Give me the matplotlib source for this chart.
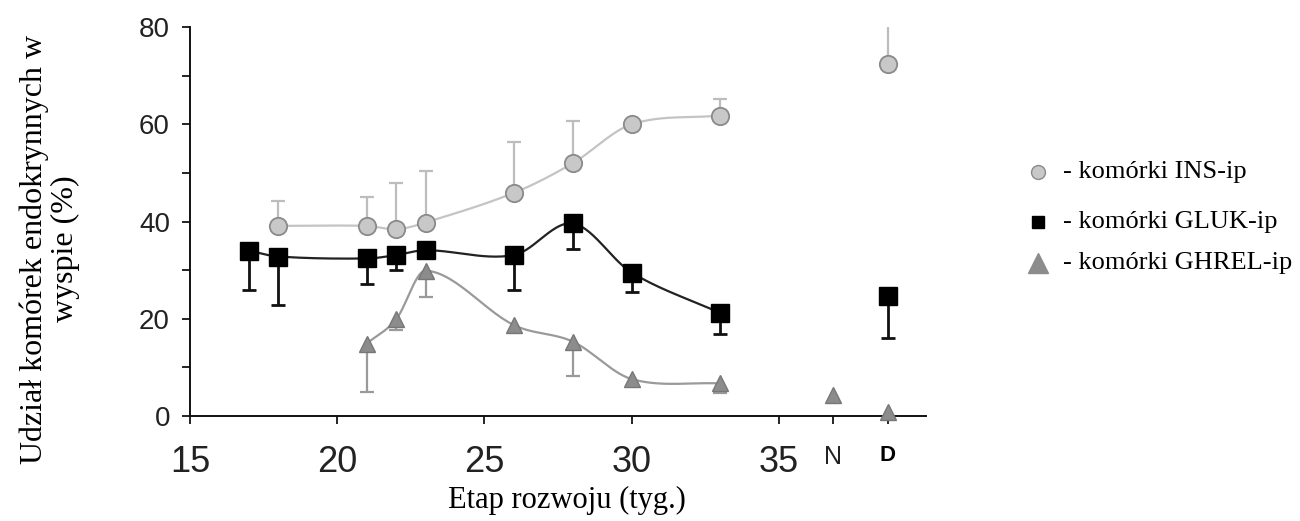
import numpy as np
import matplotlib
matplotlib.use('Agg')
import matplotlib.pyplot as plt
import matplotlib.lines as mlines

# data (weeks, % of endocrine cells in islet)
ins_x = [18, 21, 22, 23, 26, 28, 30, 33]
ins_y = [39.1, 39.1, 38.4, 39.8, 45.9, 52.0, 60.0, 61.8]
ins_err = [5.1, 5.9, 9.5, 10.5, 10.4, 8.6, 0.0, 3.4]

gluk_x = [17, 18, 21, 22, 23, 26, 28, 30, 33]
gluk_y = [34.0, 32.8, 32.4, 33.1, 34.1, 33.1, 39.6, 29.5, 21.2]
gluk_err = [8.0, 10.0, 5.3, 3.1, 0.0, 7.1, 5.3, 3.9, 4.4]

ghrel_x = [21, 22, 23, 26, 28, 30, 33]
ghrel_y = [14.9, 19.9, 29.9, 18.7, 15.3, 7.6, 6.7]
ghrel_err = [9.9, 2.2, 5.4, 0.0, 7.0, 0.0, 2.0]

# N and D groups (separate, unconnected points)
N_POS, D_POS = 36.85, 38.7
ins_d, ins_d_err = 72.5, 8.1
gluk_d, gluk_d_err = 24.7, 8.6
ghrel_n, ghrel_d = 4.3, 0.9

xtick_pos = [15, 20, 25, 30, 35, N_POS, D_POS]
xtick_labels = ['15', '20', '25', '30', '35', 'N', 'D']


def smooth(x, y, n=30):
    """cubic hermite curve through the points (only for drawing the line)"""
    x = np.asarray(x, float)
    y = np.asarray(y, float)
    m = np.zeros_like(y)
    m[1:-1] = (y[2:] - y[:-2]) / (x[2:] - x[:-2])
    m[0] = (y[1] - y[0]) / (x[1] - x[0])
    m[-1] = (y[-1] - y[-2]) / (x[-1] - x[-2])
    xs, ys = [], []
    for i in range(len(x) - 1):
        h = x[i + 1] - x[i]
        t = np.linspace(0, 1, n)
        h00 = 2 * t**3 - 3 * t**2 + 1
        h10 = t**3 - 2 * t**2 + t
        h01 = -2 * t**3 + 3 * t**2
        h11 = t**3 - t**2
        xs.append(x[i] + t * h)
        ys.append(h00 * y[i] + h10 * h * m[i] + h01 * y[i + 1] + h11 * h * m[i + 1])
    return np.concatenate(xs), np.concatenate(ys)


def one_sided_err(ax, x, y, err, sign, color, lw):
    """error bar going only up (sign=1) or down (sign=-1), cap at the end"""
    for xi, yi, ei in zip(x, y, err):
        if ei <= 0:
            continue
        end = yi + sign * ei
        ax.plot([xi, xi], [yi, end], color=color, lw=lw, zorder=1, solid_capstyle='butt')
        ax.plot([xi], [end], marker='_', ms=9.5, mew=lw, color=color, zorder=1)


fig = plt.figure(figsize=(13, 5.21), dpi=100)
ax = fig.add_axes([0.1462, 0.2015, 0.5662, 0.7466])

ins_c, ins_edge = '#c8c8c8', '#8a8a8a'
tri_c, tri_edge = '#8c8c8c', '#777777'

# lines
sx, sy = smooth(ins_x, ins_y)
ax.plot(sx, sy, color='#c4c4c4', lw=1.6, zorder=2)
sx, sy = smooth(gluk_x, gluk_y)
ax.plot(sx, sy, color='#222222', lw=1.6, zorder=2)
sx, sy = smooth(ghrel_x, ghrel_y)
ax.plot(sx, sy, color='#9a9a9a', lw=1.6, zorder=2)

# error bars
one_sided_err(ax, ins_x + [D_POS], ins_y + [ins_d], ins_err + [ins_d_err], 1, '#bdbdbd', 1.6)
one_sided_err(ax, gluk_x + [D_POS], gluk_y + [gluk_d], gluk_err + [gluk_d_err], -1, '#111111', 2.0)
one_sided_err(ax, ghrel_x, ghrel_y, ghrel_err, -1, '#9a9a9a', 1.6)

# markers
ax.plot(ins_x + [D_POS], ins_y + [ins_d], 'o', ms=12.5, mfc=ins_c, mec=ins_edge, mew=1.3,
        ls='none', zorder=4)
ax.plot(gluk_x + [D_POS], gluk_y + [gluk_d], 's', ms=12.5, mfc='black', mec='black',
        ls='none', zorder=4)
ax.plot(ghrel_x + [N_POS, D_POS], ghrel_y + [ghrel_n, ghrel_d], '^', ms=12, mfc=tri_c, mec=tri_edge,
        ls='none', zorder=4, clip_on=False)

# axes
ax.set_xlim(15, 40)
ax.set_ylim(0, 80)
for s in ['top', 'right']:
    ax.spines[s].set_visible(False)
for s in ['left', 'bottom']:
    ax.spines[s].set_linewidth(1.4)
    ax.spines[s].set_color('#111111')

ax.set_yticks([0, 20, 40, 60, 80])
ax.set_yticks([10, 30, 50, 70], minor=True)
ax.tick_params(axis='y', which='both', length=6, width=1.2, direction='out', pad=8.5,
               labelsize=20, labelcolor='#222222')
for lab in ax.get_yticklabels():
    lab.set_family('Liberation Sans')

ax.set_xticks(xtick_pos)
ax.set_xticklabels(xtick_labels)
ax.tick_params(axis='x', length=6, width=1.2, direction='out', pad=15,
               labelsize=26, labelcolor='#222222')
for i, lab in enumerate(ax.get_xticklabels()):
    lab.set_family('Liberation Sans')
    if xtick_labels[i] == 'N':
        lab.set_fontsize(18)
    elif xtick_labels[i] == 'D':
        lab.set_fontsize(16)
        lab.set_fontweight('bold')
        lab.set_color('black')
ax.xaxis.get_major_ticks()[2].tick1line.set_color('#bbbbbb')

# axis titles
fig.text(50 / 1300, 1 - 249 / 521, 'Udział komórek endokrynnych w\nwyspie (%)', rotation=90,
         ha='center', va='center', family='Liberation Serif', fontsize=23,
         multialignment='center', linespacing=1.1)
fig.text(567 / 1300, 1 - 500 / 521, 'Etap rozwoju (tyg.)', ha='center', va='center',
         family='Liberation Serif', fontsize=22)

# legend drawn by hand (uneven spacing in the original)
leg = [
    ('o', 10, ins_c, ins_edge, 172, '- komórki INS-ip'),
    ('s', 9, 'black', 'black', 222, '- komórki GLUK-ip'),
    ('^', 14, tri_c, tri_c, 263, '- komórki GHREL-ip'),
]
for mk, ms, fc, ec, ypx, txt in leg:
    yf = 1 - ypx / 521
    fig.add_artist(mlines.Line2D([1038 / 1300], [yf], marker=mk, ms=ms, mfc=fc, mec=ec,
                                 ls='none', transform=fig.transFigure))
    fig.text(1063 / 1300, yf, txt, ha='left', va='center', family='Liberation Serif',
             fontsize=19)

fig.savefig('out.png', dpi=100)
